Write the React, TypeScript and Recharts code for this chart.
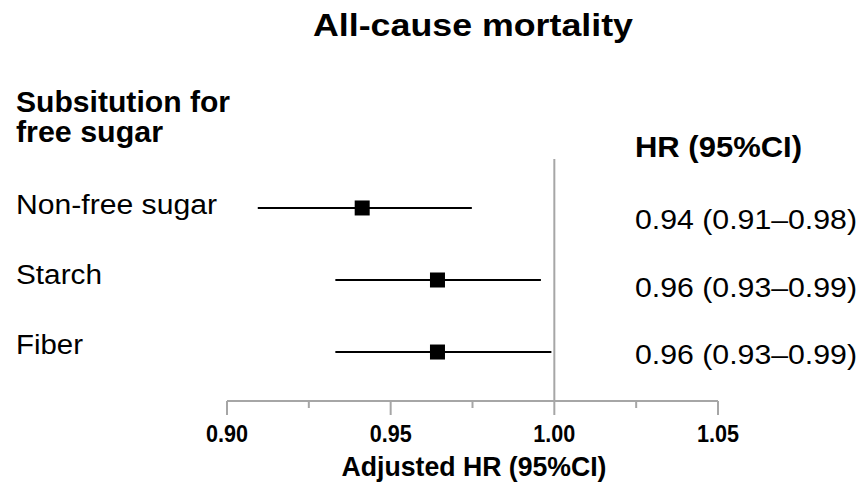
import React from "react";
import {
  ComposedChart,
  Scatter,
  XAxis,
  YAxis,
  ErrorBar,
  ReferenceLine,
  Customized,
} from "recharts";

// ---- data ----
const categories = ["Non-free sugar", "Starch", "Fiber"];
const hrValues = [0.9413, 0.9643, 0.9643];
const ciLow = [0.9094, 0.9331, 0.9331];
const ciHigh = [0.9748, 0.9959, 0.9991];
const hrLabels = ["0.94 (0.91\u20130.98)", "0.96 (0.93\u20130.99)", "0.96 (0.93\u20130.99)"];
const xTicks = [0.9, 0.925, 0.95, 0.975, 1.0, 1.025, 1.05];
const xTickLabels = ["0.90", "", "0.95", "", "1.00", "", "1.05"];

const rows = categories.map((name, i) => ({
  name,
  y: i + 1,
  hr: hrValues[i],
  ci: [hrValues[i] - ciLow[i], ciHigh[i] - hrValues[i]],
}));

const FONT = "'Liberation Sans', Arial, Helvetica, sans-serif";
const GREY = "#a6a6a6";

const LeftTick = (props: any) => {
  const { y, payload } = props;
  const idx = Math.round(payload.value) - 1;
  const label = categories[idx];
  const widths = [201, 86, 67];
  return (
    <text
      x={16}
      y={y + 10}
      fontFamily={FONT}
      fontSize={27}
      fill="#000"
      textAnchor="start"
      textLength={widths[idx]}
      lengthAdjust="spacingAndGlyphs"
    >
      {label}
    </text>
  );
};

const RightTick = (props: any) => {
  const { y, payload } = props;
  const idx = Math.round(payload.value) - 1;
  return (
    <text
      x={635}
      y={y + 10}
      fontFamily={FONT}
      fontSize={28}
      fill="#000"
      textAnchor="start"
      textLength={222}
      lengthAdjust="spacingAndGlyphs"
    >
      {hrLabels[idx]}
    </text>
  );
};

const XTick = (props: any) => {
  const { x, y, payload, index } = props;
  const idx = xTicks.findIndex((t) => Math.abs(t - payload.value) < 1e-6);
  const label = xTickLabels[idx >= 0 ? idx : index] || "";
  const major = label !== "";
  return (
    <g>
      <line x1={x} y1={y} x2={x} y2={y + (major ? 14 : 7)} stroke={GREY} strokeWidth={2} />
      {major && (
        <text
          x={x}
          y={y + 41}
          fontFamily={FONT}
          fontSize={23}
          fontWeight="bold"
          fill="#000"
          textAnchor="middle"
          textLength={42}
          lengthAdjust="spacingAndGlyphs"
        >
          {label}
        </text>
      )}
    </g>
  );
};

const Square = (props: any) => {
  const { cx, cy } = props;
  const s = 15;
  return <rect x={cx - s / 2} y={cy - s / 2} width={s} height={s} fill="#000" />;
};

const Headers = () => (
  <g fontFamily={FONT} fill="#000">
    <text x={313} y={36} fontSize={32} fontWeight="bold" textLength={320} lengthAdjust="spacingAndGlyphs">
      All-cause mortality
    </text>
    <text x={16} y={112} fontSize={30} fontWeight="bold" textLength={214} lengthAdjust="spacingAndGlyphs">
      Subsitution for
    </text>
    <text x={16} y={142} fontSize={30} fontWeight="bold" textLength={147} lengthAdjust="spacingAndGlyphs">
      free sugar
    </text>
    <text x={635} y={157} fontSize={30} fontWeight="bold" textLength={167} lengthAdjust="spacingAndGlyphs">
      HR (95%CI)
    </text>
    <text x={474} y={476} fontSize={27} fontWeight="bold" textAnchor="middle" textLength={265} lengthAdjust="spacingAndGlyphs">
      Adjusted HR (95%CI)
    </text>
  </g>
);

export default function App() {
  return (
    <div style={{ position: "absolute", left: 0, top: 0, background: "#fff" }}>
      <ComposedChart
        width={866}
        height={486}
        data={rows}
        margin={{ top: 159, right: 0, bottom: 55, left: 0 }}
      >
        <XAxis
          type="number"
          dataKey="hr"
          domain={[0.9, 1.05]}
          ticks={xTicks}
          interval={0}
          allowDataOverflow
          axisLine={{ stroke: GREY, strokeWidth: 2 }}
          tickLine={false}
          tickSize={0}
          tickMargin={0}
          tick={<XTick />}
          height={30}
        />
        <YAxis yAxisId="rows" type="number" dataKey="y" domain={[0.32, 3.68]} reversed hide allowDataOverflow />
        <YAxis
          yAxisId="labels"
          orientation="left"
          type="number"
          domain={[0.357, 3.814]}
          ticks={[1, 2, 3]}
          reversed
          width={227}
          axisLine={false}
          tickLine={false}
          tick={<LeftTick />}
          allowDataOverflow
          interval={0}
        />
        <YAxis
          yAxisId="hr"
          orientation="right"
          type="number"
          domain={[0.111, 3.696]}
          ticks={[1, 2, 3]}
          reversed
          width={148}
          axisLine={false}
          tickLine={false}
          tick={<RightTick />}
          allowDataOverflow
          interval={0}
        />
        <ReferenceLine yAxisId="rows" x={1.0} stroke={GREY} strokeWidth={2} ifOverflow="extendDomain" />
        <Scatter yAxisId="rows" dataKey="y" data={rows} shape={<Square />} isAnimationActive={false}>
          <ErrorBar dataKey="ci" direction="x" width={0} stroke="#000" strokeWidth={2} />
        </Scatter>
        <Customized component={Headers} />
      </ComposedChart>
    </div>
  );
}
